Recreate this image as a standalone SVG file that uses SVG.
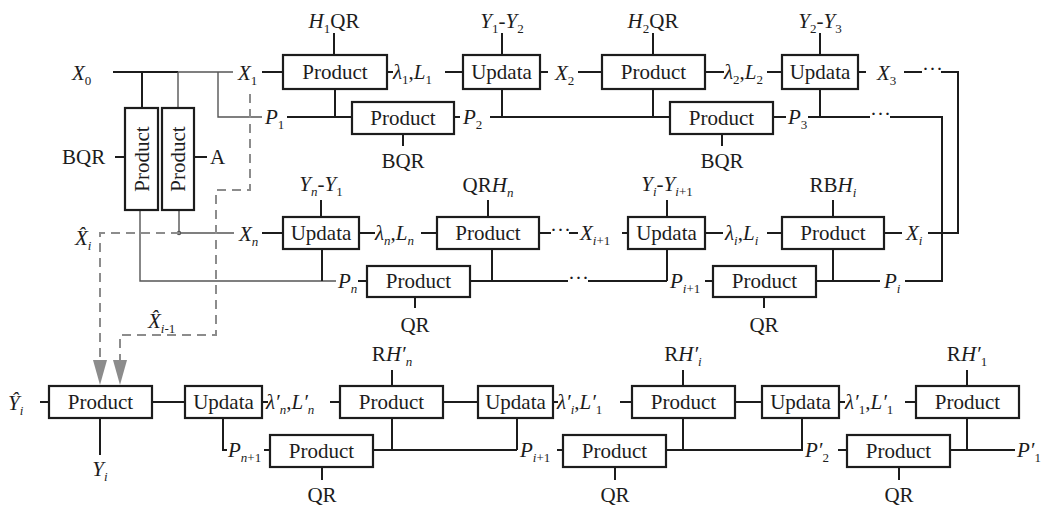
<svg xmlns="http://www.w3.org/2000/svg" width="1043" height="509" viewBox="0 0 1043 509">
<style>
.box{fill:#fff;stroke:#1c1c1c;stroke-width:2.2}
.ln{fill:none;stroke:#1c1c1c;stroke-width:2}
.thin{fill:none;stroke:#555;stroke-width:1.4}
.dash{fill:none;stroke:#8c8c8c;stroke-width:2;stroke-dasharray:9 6}
.arr{fill:#8c8c8c}
.t{font-family:"Liberation Serif",serif;font-size:21px;fill:#1c1c1c}
.c{text-anchor:middle}
.i{font-style:italic}
.s{font-size:13px}
</style>
<rect width="1043" height="509" fill="#fff"/>

<!-- connectors -->
<g id="connectors">
  <!-- top row: X chain -->
  <path class="ln" d="M113,72 H178 M142,72 V108" stroke-width="2.4"/>
  <path class="thin" d="M178,72 H233 M178,72 V108 M218,72 V117 H262"/>
  <path class="ln" d="M262,72 H283 M334,33 V55 M387,72 H393 M445,72 H463 M502,33 V55 M540,72 H548 M578,72 H602 M653,33 V55 M705,72 H724 M767,72 H782 M820,33 V55 M858,72 H866 M904,72 H922 M941,72 H958 V233 H928"/>
  <!-- second row: P chain -->
  <path class="ln" d="M287,117 H352 M335,89 V117 M454,117 H460 M490,117 H670 M502,89 V117 M653,89 V117 M403,134 V146 M722,134 V146 M773,117 H786 M808,117 H870 M820,89 V117 M890,117 H942 V281 H905"/>
  <!-- left product pair -->
  <path class="ln" d="M115,157 H125 M194,157 H207"/>
  <path class="thin" d="M140,210 V281 H336 M179,210 V233 H234" stroke-width="1.6"/>
  <circle cx="179" cy="233" r="2.2" fill="#555"/>
  <!-- third row -->
  <path class="ln" d="M262,233 H283 M321,200 V217 M359,233 H375 M421,233 H437 M488,200 V217 M539,233 H551 M569,233 H578 M622,233 H628 M667,200 V217 M705,233 H723 M767,233 H782 M833,200 V217 M884,233 H902"/>
  <!-- fourth row -->
  <path class="ln" d="M322,249 V281 M358,281 H367 M415,297 V308 M470,281 H568 M588,281 H667 M492,249 V281 M667,249 V281 M705,281 H713 M764,297 V308 M816,281 H880 M833,249 V281"/>
  <!-- estimate feedback -->
  <path class="dash" d="M180,233 H100 V360"/>
  <path class="dash" d="M250,94 V190 H216 V335 H120 V360"/>
  <polygon class="arr" points="93,360 107,360 100,385"/>
  <polygon class="arr" points="113,360 127,360 120,385"/>
  <!-- bottom row -->
  <path class="ln" d="M40,402 H49 M100,418 V455 M152,402 H185 M262,402 H268 M330,402 H340 M392,370 V386 M443,402 H478 M553,402 H558 M620,402 H632 M683,370 V386 M735,402 H762 M839,402 H845 M905,402 H916 M967,370 V386"/>
  <path class="ln" d="M223,418 V450 H227 M264,450 H270 M322,467 V480 M373,450 H517 M392,418 V450 M517,418 V450 M557,450 H563 M615,467 V480 M666,450 H803 M683,418 V450 M802,418 V450 M838,450 H847 M899,467 V480 M950,450 H1015 M967,418 V450"/>
</g>

<!-- connector labels -->
<g id="labels" class="t">
  <text x="72" y="80"><tspan class="i">X</tspan><tspan class="s" dy="5">0</tspan></text>
  <text x="238" y="80"><tspan class="i">X</tspan><tspan class="s" dy="5">1</tspan></text>
  <text x="393" y="79"><tspan class="i">λ</tspan><tspan class="s" dy="5">1</tspan><tspan dy="-5">,</tspan><tspan class="i">L</tspan><tspan class="s" dy="5">1</tspan></text>
  <text x="555" y="80"><tspan class="i">X</tspan><tspan class="s" dy="5">2</tspan></text>
  <text x="724" y="79"><tspan class="i">λ</tspan><tspan class="s" dy="5">2</tspan><tspan dy="-5">,</tspan><tspan class="i">L</tspan><tspan class="s" dy="5">2</tspan></text>
  <text x="877" y="80"><tspan class="i">X</tspan><tspan class="s" dy="5">3</tspan></text>
  <text x="922" y="76">···</text>
  <text class="c" x="334" y="28"><tspan class="i">H</tspan><tspan class="s" dy="5">1</tspan><tspan dy="-5">QR</tspan></text>
  <text class="c" x="502" y="28"><tspan class="i">Y</tspan><tspan class="s" dy="5">1</tspan><tspan dy="-5">-</tspan><tspan class="i">Y</tspan><tspan class="s" dy="5">2</tspan></text>
  <text class="c" x="653" y="28"><tspan class="i">H</tspan><tspan class="s" dy="5">2</tspan><tspan dy="-5">QR</tspan></text>
  <text class="c" x="820" y="28"><tspan class="i">Y</tspan><tspan class="s" dy="5">2</tspan><tspan dy="-5">-</tspan><tspan class="i">Y</tspan><tspan class="s" dy="5">3</tspan></text>

  <text x="265" y="124"><tspan class="i">P</tspan><tspan class="s" dy="5">1</tspan></text>
  <text x="463" y="124"><tspan class="i">P</tspan><tspan class="s" dy="5">2</tspan></text>
  <text x="788" y="124"><tspan class="i">P</tspan><tspan class="s" dy="5">3</tspan></text>
  <text x="870" y="121">···</text>
  <text class="c" x="403" y="168">BQR</text>
  <text class="c" x="722" y="168">BQR</text>
  <text x="62" y="164">BQR</text>
  <text x="210" y="164">A</text>

  <text x="75" y="245"><tspan class="i">X̂</tspan><tspan class="s i" dy="5">i</tspan></text>
  <text x="239" y="241"><tspan class="i">X</tspan><tspan class="s i" dy="5">n</tspan></text>
  <text class="c" x="321" y="191"><tspan class="i">Y</tspan><tspan class="s i" dy="5">n</tspan><tspan dy="-5">-</tspan><tspan class="i">Y</tspan><tspan class="s" dy="5">1</tspan></text>
  <text x="375" y="240"><tspan class="i">λ</tspan><tspan class="s i" dy="5">n</tspan><tspan dy="-5">,</tspan><tspan class="i">L</tspan><tspan class="s i" dy="5">n</tspan></text>
  <text class="c" x="488" y="192">QR<tspan class="i">H</tspan><tspan class="s i" dy="5">n</tspan></text>
  <text x="550" y="237">···</text>
  <text x="580" y="240"><tspan class="i">X</tspan><tspan class="s i" dy="5">i</tspan><tspan class="s" dy="0">+1</tspan></text>
  <text class="c" x="667" y="191"><tspan class="i">Y</tspan><tspan class="s i" dy="5">i</tspan><tspan dy="-5">-</tspan><tspan class="i">Y</tspan><tspan class="s i" dy="5">i</tspan><tspan class="s">+1</tspan></text>
  <text x="725" y="240"><tspan class="i">λ</tspan><tspan class="s i" dy="5">i</tspan><tspan dy="-5">,</tspan><tspan class="i">L</tspan><tspan class="s i" dy="5">i</tspan></text>
  <text class="c" x="833" y="192">RB<tspan class="i">H</tspan><tspan class="s i" dy="5">i</tspan></text>
  <text x="906" y="240"><tspan class="i">X</tspan><tspan class="s i" dy="5">i</tspan></text>

  <text x="338" y="288"><tspan class="i">P</tspan><tspan class="s i" dy="5">n</tspan></text>
  <text class="c" x="415" y="332">QR</text>
  <text x="568" y="285">···</text>
  <text x="670" y="288"><tspan class="i">P</tspan><tspan class="s i" dy="5">i</tspan><tspan class="s">+1</tspan></text>
  <text class="c" x="764" y="332">QR</text>
  <text x="884" y="288"><tspan class="i">P</tspan><tspan class="s i" dy="5">i</tspan></text>
  <text x="148" y="328"><tspan class="i">X̂</tspan><tspan class="s i" dy="5">i</tspan><tspan class="s">-1</tspan></text>

  <text x="8" y="410"><tspan class="i">Ŷ</tspan><tspan class="s i" dy="5">i</tspan></text>
  <text class="c" x="100" y="476"><tspan class="i">Y</tspan><tspan class="s i" dy="5">i</tspan></text>
  <text x="266" y="409"><tspan class="i">λ′</tspan><tspan class="s i" dy="5">n</tspan><tspan dy="-5">,</tspan><tspan class="i">L′</tspan><tspan class="s i" dy="5">n</tspan></text>
  <text class="c" x="392" y="361">R<tspan class="i">H′</tspan><tspan class="s i" dy="5">n</tspan></text>
  <text x="557" y="409"><tspan class="i">λ′</tspan><tspan class="s i" dy="5">i</tspan><tspan dy="-5">,</tspan><tspan class="i">L′</tspan><tspan class="s" dy="5">1</tspan></text>
  <text class="c" x="683" y="361">R<tspan class="i">H′</tspan><tspan class="s i" dy="5">i</tspan></text>
  <text x="845" y="409"><tspan class="i">λ′</tspan><tspan class="s" dy="5">1</tspan><tspan dy="-5">,</tspan><tspan class="i">L′</tspan><tspan class="s" dy="5">1</tspan></text>
  <text class="c" x="967" y="361">R<tspan class="i">H′</tspan><tspan class="s" dy="5">1</tspan></text>

  <text x="228" y="457"><tspan class="i">P</tspan><tspan class="s i" dy="5">n</tspan><tspan class="s">+1</tspan></text>
  <text class="c" x="322" y="502">QR</text>
  <text x="520" y="457"><tspan class="i">P</tspan><tspan class="s i" dy="5">i</tspan><tspan class="s">+1</tspan></text>
  <text class="c" x="615" y="502">QR</text>
  <text x="805" y="457"><tspan class="i">P′</tspan><tspan class="s" dy="5">2</tspan></text>
  <text class="c" x="899" y="502">QR</text>
  <text x="1017" y="457"><tspan class="i">P′</tspan><tspan class="s" dy="5">1</tspan></text>
</g>

<!-- nodes -->
<g id="prod-h1" class="t"><rect class="box" x="283" y="55" width="104" height="34"/><text class="c" x="335" y="79">Product</text></g>
<g id="upd-1" class="t"><rect class="box" x="463" y="55" width="77" height="34"/><text class="c" x="501.5" y="79">Updata</text></g>
<g id="prod-h2" class="t"><rect class="box" x="602" y="55" width="103" height="34"/><text class="c" x="653.5" y="79">Product</text></g>
<g id="upd-2" class="t"><rect class="box" x="782" y="55" width="76" height="34"/><text class="c" x="820" y="79">Updata</text></g>
<g id="prod-p2" class="t"><rect class="box" x="352" y="102" width="102" height="32"/><text class="c" x="403" y="125">Product</text></g>
<g id="prod-p3" class="t"><rect class="box" x="670" y="102" width="103" height="32"/><text class="c" x="721.5" y="125">Product</text></g>
<g id="prod-bqr" class="t"><rect class="box" x="125" y="108" width="33" height="102"/><text class="c" transform="translate(149,159) rotate(-90)">Product</text></g>
<g id="prod-a" class="t"><rect class="box" x="162" y="108" width="32" height="102"/><text class="c" transform="translate(185,159) rotate(-90)">Product</text></g>

<g id="upd-n" class="t"><rect class="box" x="283" y="217" width="76" height="32"/><text class="c" x="321" y="240">Updata</text></g>
<g id="prod-hn" class="t"><rect class="box" x="437" y="217" width="102" height="32"/><text class="c" x="488" y="240">Product</text></g>
<g id="upd-i" class="t"><rect class="box" x="628" y="217" width="77" height="32"/><text class="c" x="666.5" y="240">Updata</text></g>
<g id="prod-hi" class="t"><rect class="box" x="782" y="217" width="102" height="32"/><text class="c" x="833" y="240">Product</text></g>
<g id="prod-pn" class="t"><rect class="box" x="367" y="266" width="103" height="31"/><text class="c" x="418.5" y="288">Product</text></g>
<g id="prod-pi" class="t"><rect class="box" x="713" y="266" width="103" height="31"/><text class="c" x="764.5" y="288">Product</text></g>

<g id="prod-y" class="t"><rect class="box" x="49" y="386" width="103" height="32"/><text class="c" x="100.5" y="409">Product</text></g>
<g id="upd-b1" class="t"><rect class="box" x="185" y="386" width="77" height="32"/><text class="c" x="223.5" y="409">Updata</text></g>
<g id="prod-rhn" class="t"><rect class="box" x="340" y="386" width="103" height="32"/><text class="c" x="391.5" y="409">Product</text></g>
<g id="upd-b2" class="t"><rect class="box" x="478" y="386" width="75" height="32"/><text class="c" x="515.5" y="409">Updata</text></g>
<g id="prod-rhi" class="t"><rect class="box" x="632" y="386" width="103" height="32"/><text class="c" x="683.5" y="409">Product</text></g>
<g id="upd-b3" class="t"><rect class="box" x="762" y="386" width="77" height="32"/><text class="c" x="800.5" y="409">Updata</text></g>
<g id="prod-rh1" class="t"><rect class="box" x="916" y="386" width="103" height="32"/><text class="c" x="967.5" y="409">Product</text></g>
<g id="prod-pb1" class="t"><rect class="box" x="270" y="435" width="103" height="32"/><text class="c" x="321.5" y="458">Product</text></g>
<g id="prod-pb2" class="t"><rect class="box" x="563" y="435" width="103" height="32"/><text class="c" x="614.5" y="458">Product</text></g>
<g id="prod-pb3" class="t"><rect class="box" x="847" y="435" width="103" height="32"/><text class="c" x="898.5" y="458">Product</text></g>
</svg>
